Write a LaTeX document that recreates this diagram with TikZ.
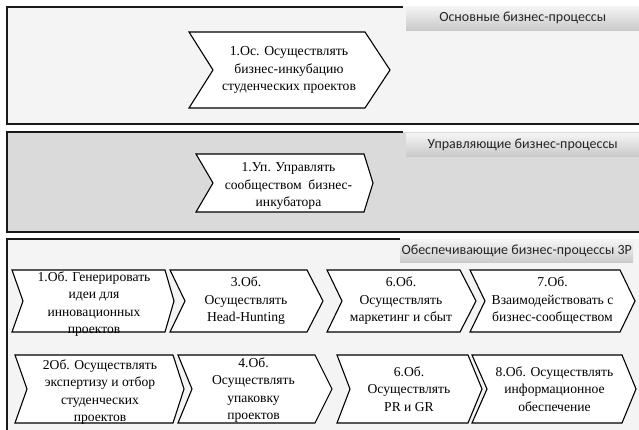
\documentclass[tikz,border=0pt]{standalone}
\usepackage{fontspec}
\setmainfont{Liberation Serif}
\newfontfamily\tabfont{Carlito}
\usetikzlibrary{calc}
\definecolor{panelA}{HTML}{F4F4F4}
\definecolor{panelB}{HTML}{DADADA}
\tikzset{
  frame/.style={line width=1.8pt, draw=black!90},
  chevron/.style={fill=white, draw=black, line width=1.1pt, line join=miter},
  chevtext/.style={align=center, inner sep=0pt, font=\fontsize{13.6}{17.5}\selectfont},
  tab/.style={anchor=north west, minimum width=233pt, inner sep=0pt,
    top color=gray!8, bottom color=gray!42, text=black!85,
    font=\tabfont\fontsize{14}{15}\selectfont}
}
% #1 name, #2 left x, #3 notch x, #4 corner x, #5 tip x, #6 top y, #7 bottom y, #8 text, #9 text shift
\newcommand{\chev}[9]{%
  \pgfmathsetmacro\chym{(#6+#7)/2}%
  \pgfmathsetmacro\chyt{(#6+#7)/2+#9}%
  \pgfmathsetmacro\chxm{(#3+#4)/2}%
  \filldraw[chevron] (#2,#6) -- (#4,#6) -- (#5,\chym) -- (#4,#7) -- (#2,#7) -- (#3,\chym) -- cycle;
  \node[chevtext] (#1) at (\chxm,\chyt) {#8};
}
\begin{document}
\begin{tikzpicture}[x=1pt,y=-1pt]
\useasboundingbox (0,0) rectangle (639,430);
\fill[white] (0,0) rectangle (639,430);
% panels
\fill[panelA] (7,7) rectangle (639,124);
\draw[frame] (403,7) -- (7,7) -- (7,124) -- (639,124);
\fill[panelB] (7,132) rectangle (639,232);
\draw[frame] (403,132) -- (7,132) -- (7,232) -- (639,232);
\fill[panelA] (7,239) rectangle (639,432);
\draw[frame] (400,239) -- (7,239) -- (7,432);
% tabs
\node[tab, minimum height=24pt] (t1) at (406,6) {Основные бизнес-процессы};
\node[tab, minimum height=23pt] (t2) at (406,133) {Управляющие бизнес-процессы};
\node[tab, minimum height=22pt] (t3) at (400,240) {Обеспечивающие бизнес-процессы 3Р};
% chevrons
\chev{os1}{189}{213}{365}{390}{32}{108}{\fontsize{13.8}{19}\selectfont 1.Ос. Осуществлять\\бизнес-инкубацию\\студенческих проектов}{0}
\chev{up1}{196}{213}{364}{373}{154}{212}{1.Уп. Управлять\\сообществом\ \ бизнес-\\инкубатора}{3}
\chev{ob1}{12}{23}{165}{174}{270}{332}{1.Об. Генерировать\\идеи для\\инновационных\\проектов}{3}
\chev{ob3}{170}{185}{307}{323}{270}{332}{3.Об.\\Осуществлять\\Head-Hunting}{0}
\chev{ob6}{327}{342}{460}{476}{270}{332}{6.Об.\\Осуществлять\\маркетинг и сбыт}{0}
\chev{ob7}{470}{485}{620}{635}{270}{332}{7.Об.\\Взаимодействовать с\\бизнес-сообществом}{0}
\chev{ob2}{15}{27}{173}{184}{355}{423}{2Об. Осуществлять\\экспертизу и отбор\\студенческих\\проектов}{3}
\chev{ob4}{178}{192}{315}{332}{355}{423}{4.Об.\\Осуществлять\\упаковку\\проектов}{1}
\chev{ob6b}{337}{350}{468}{482}{355}{423}{6.Об.\\Осуществлять\\PR и GR}{0}
\chev{ob8}{472}{487}{622}{636}{355}{423}{8.Об. Осуществлять\\информационное\\обеспечение}{0}
\end{tikzpicture}
\end{document}
